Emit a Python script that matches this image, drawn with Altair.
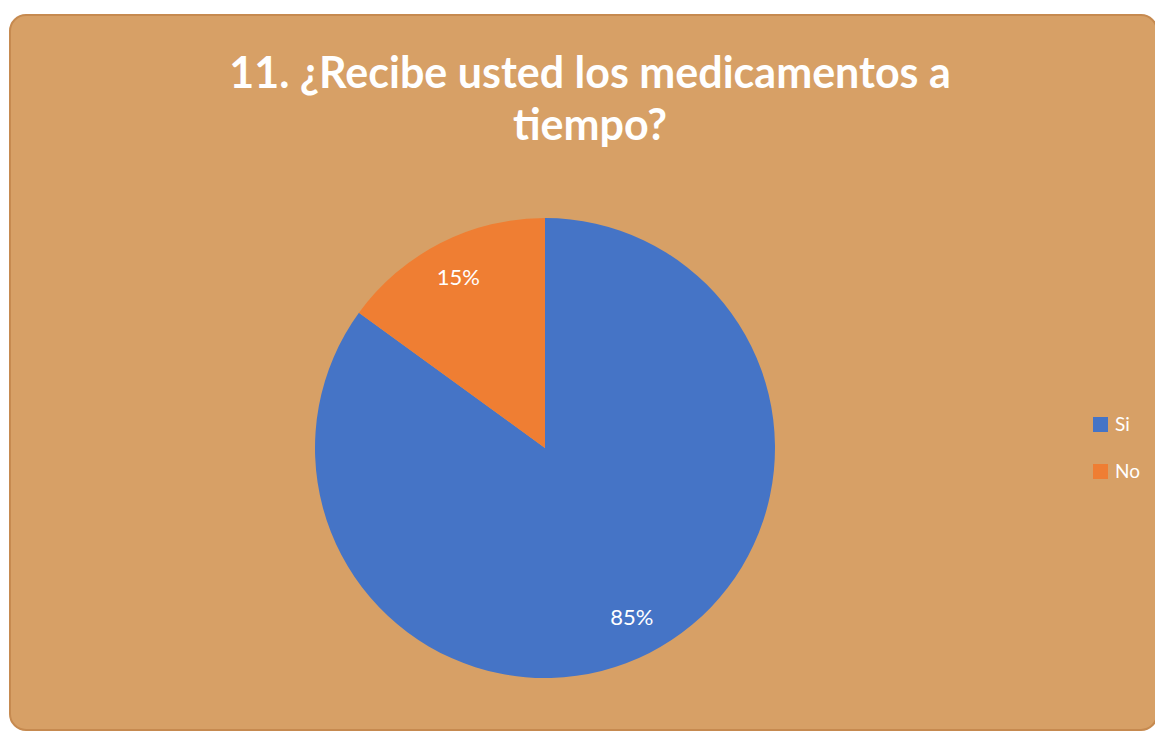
import altair as alt
import pandas as pd

title_lines = ["11. ¿Recibe usted los medicamentos a", "tiempo?"]
categories = ["Si", "No"]
values = [85, 15]
labels = ["85%", "15%"]
colors = ["#4574C6", "#EF7E33"]

W, H = 1147, 724
CX, CY, R = 537, 440, 230

df = pd.DataFrame({"cat": categories, "val": values, "lab": labels, "ord": list(range(len(categories)))})
frame_df = pd.DataFrame({"k": [0]})
title_df = pd.DataFrame({"t": [title_lines]})

frame = alt.Chart(frame_df).mark_rect(
    cornerRadius=16, fill="#D7A066", stroke="#C68A50", strokeWidth=2
).encode(
    x=alt.value(2), x2=alt.value(1149), y=alt.value(7), y2=alt.value(722)
)

title = alt.Chart(title_df).mark_text(
    font="Lato", fontWeight="bold", fontSize=43, color="white",
    align="center", baseline="alphabetic", lineHeight=52
).encode(
    x=alt.value(582), y=alt.value(80), text="t:N"
)

color_scale = alt.Scale(domain=categories, range=colors)

pie = alt.Chart(df).mark_arc(outerRadius=R).encode(
    theta=alt.Theta("val:Q", stack=True),
    order=alt.Order("ord:Q"),
    color=alt.Color(
        "cat:N", scale=color_scale, sort=categories,
        legend=alt.Legend(
            title=None, orient="none", legendX=1083, legendY=407,
            symbolType="square", symbolSize=225, symbolStrokeWidth=0,
            labelFont="Lato", labelFontSize=19, labelColor="white",
            rowPadding=27, labelOffset=5, padding=0
        ),
    ),
    x=alt.value(CX), y=alt.value(CY),
)

text = alt.Chart(df).mark_text(
    radius=191, font="Lato", fontSize=22, color="white"
).encode(
    theta=alt.Theta("val:Q", stack=True),
    order=alt.Order("ord:Q"),
    text="lab:N",
    x=alt.value(CX), y=alt.value(CY),
)

chart = alt.layer(frame, title, pie, text).properties(
    width=W, height=H, autosize=alt.AutoSizeParams(type="none"), padding=0
).configure(background="white").configure_view(stroke=None)

chart.save("out.html", embed_options={"renderer": "svg", "actions": False})
